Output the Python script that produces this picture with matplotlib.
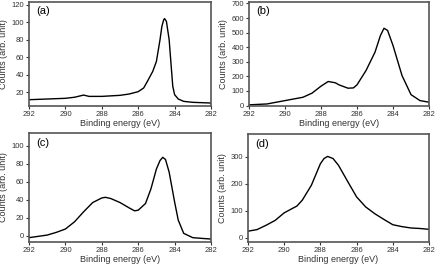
import matplotlib
matplotlib.use('Agg')
import matplotlib.pyplot as plt

plt.rcParams['font.family'] = ['Liberation Sans', 'DejaVu Sans']

# binding energy (eV) / counts for each panel
xa = [292, 291, 290, 289.5, 289, 288.7, 288, 287, 286.5, 286, 285.7, 285.5, 285.2, 285,
      284.8, 284.7, 284.6, 284.55, 284.45, 284.3, 284.2, 284.1, 284.0, 283.8, 283.5, 283, 282]
ya = [11.2, 12, 12.8, 14, 16.5, 15, 15, 16.2, 17.7, 20.4, 24.6, 32, 43.6, 55,
      80, 95, 102.7, 104, 100.8, 80, 53, 26.5, 17, 12, 9.3, 8.2, 7.4]

xb = [292, 291, 290, 289, 288.5, 288, 287.6, 287.2, 287, 286.5, 286.2, 286, 285.5, 285,
      284.7, 284.5, 284.3, 284, 283.5, 283, 282.5, 282]
yb = [5, 11, 34, 57, 85, 133, 165, 156, 142, 119, 121, 142, 240, 366,
      480, 530, 515, 412, 206, 75, 34, 23]

xc = [292, 291, 290.5, 290, 289.5, 289, 288.5, 288, 287.8, 287.5, 287, 286.5, 286.2, 286,
      285.6, 285.3, 285, 284.8, 284.65, 284.5, 284.3, 284, 283.8, 283.5, 283, 282.5, 282]
yc = [-2.2, 0.7, 3.7, 7.4, 15.4, 26.5, 36.8, 41.9, 42.6, 41.2, 36.8, 30.9, 27.6, 28.3,
      35.7, 52, 74, 83.5, 87, 84.6, 70.6, 37.5, 17.3, 2.6, -2.2, -3, -3.7]

xd = [292, 291.5, 291, 290.5, 290, 289.5, 289.3, 289, 288.5, 288, 287.8, 287.6, 287.3, 287,
      286.5, 286, 285.5, 285, 284.5, 284, 283.5, 283, 282.5, 282]
yd = [25, 31, 47, 65, 93, 111, 118, 140, 195, 275, 294, 302, 294, 269,
      210, 152, 115, 90, 69, 49, 42, 37, 35, 32]

xticks = [292, 290, 288, 286, 284, 282]

fig = plt.figure(figsize=(4.36, 2.64), dpi=100)

panels = [
    ('(a)', xa, ya, [29, 2, 211, 106], (4, 123), [20, 40, 60, 80, 100, 120]),
    ('(b)', xb, yb, [249, 2, 429, 106], (-3, 710), [0, 100, 200, 300, 400, 500, 600, 700]),
    ('(c)', xc, yc, [29, 133, 211, 242], (-7, 114), [0, 20, 40, 60, 80, 100]),
    ('(d)', xd, yd, [248, 134, 429, 242], (-15, 385), [0, 100, 200, 300]),
]

W, H = 436, 264
for label, x, y, box, ylim, yticks in panels:
    l, t, r, b = box
    ax = fig.add_axes([l / W, (H - b) / H, (r - l) / W, (b - t) / H])
    ax.plot(x, y, color='black', lw=1.0)
    ax.set_xlim(292, 282)
    ax.set_ylim(*ylim)
    ax.set_xticks(xticks)
    ax.set_yticks(yticks)
    ax.tick_params(labelsize=5.5, length=2, width=0.8, pad=1.5, colors='#333333')
    for s in ax.spines.values():
        s.set_color('#555555')
        s.set_linewidth(1.2)
    ax.set_xlabel('Binding energy (eV)', fontsize=6.5, labelpad=0.5, color='#333333')
    ax.set_ylabel('Counts (arb. unit)', fontsize=6.5, labelpad=2.5, color='#333333')
    ax.text(0.04, 0.88, label, transform=ax.transAxes, fontsize=8, color='black')

fig.savefig('out.png', dpi=100)
